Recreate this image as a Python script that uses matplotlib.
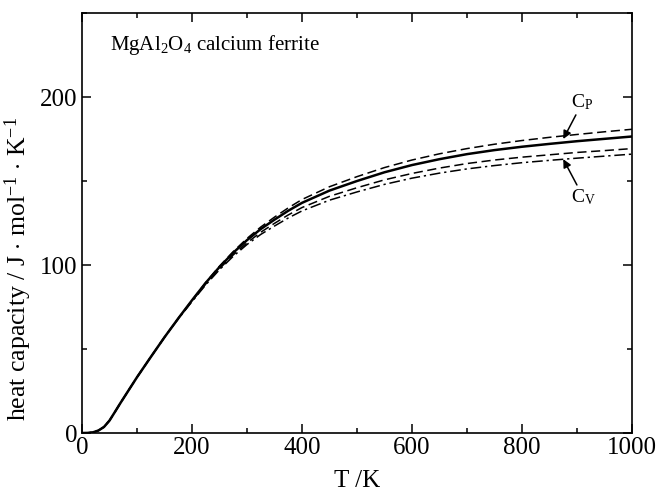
import matplotlib
matplotlib.use("Agg")
import matplotlib.pyplot as plt

plt.rcParams['font.family'] = ['Liberation Serif', 'DejaVu Serif']
plt.rcParams['mathtext.fontset'] = 'custom'
plt.rcParams['mathtext.rm'] = 'Liberation Serif'
plt.rcParams['mathtext.it'] = 'Liberation Serif:italic'

# Temperature grid (K)
T = [0, 10, 20, 30, 40, 50, 60, 70, 80, 90, 100, 125, 150, 175, 200, 225, 250,
     275, 300, 325, 350, 375, 400, 450, 500, 550, 600, 650, 700, 750, 800, 850,
     900, 950, 1000]
# Cp (solid)
cp_solid = [0, 0.05, 0.4, 1.5, 3.6, 7.4, 12.6, 17.9, 23.0, 28.1, 33.2, 45.2,
            57.0, 68.2, 79.0, 89.4, 98.8, 107.3, 114.8, 121.4, 127.0, 132.3,
            137.0, 144.3, 150.0, 155.2, 159.5, 163.0, 166.0, 168.4, 170.4,
            172.1, 173.7, 175.1, 176.5]
# Cp (dashed, upper)
cp_dashed = [0, 0.05, 0.4, 1.5, 3.6, 7.4, 12.6, 17.9, 23.0, 28.1, 33.2, 45.2,
             57.0, 68.2, 79.0, 89.6, 99.3, 108.0, 115.8, 122.6, 128.5, 134.0,
             139.0, 146.6, 152.6, 158.0, 162.5, 166.2, 169.3, 171.9, 174.1,
             176.0, 177.7, 179.3, 180.8]
# Cv (dashed, lower)
cv_dashed = [0, 0.05, 0.4, 1.5, 3.6, 7.4, 12.6, 17.9, 23.0, 28.1, 33.2, 45.2,
             57.0, 68.2, 78.5, 88.7, 97.8, 106.0, 113.2, 119.5, 124.8, 129.8,
             134.2, 140.9, 146.0, 150.7, 154.5, 157.7, 160.4, 162.5, 164.2,
             165.6, 167.0, 168.1, 169.3]
# Cv (dash-dot)
cv_dashdot = [0, 0.05, 0.4, 1.5, 3.6, 7.4, 12.6, 17.9, 23.0, 28.1, 33.2, 45.2,
              57.0, 67.9, 78.2, 88.2, 97.2, 105.2, 112.2, 118.2, 123.2, 128.0,
              132.2, 138.6, 143.5, 148.0, 151.7, 154.7, 157.2, 159.2, 160.9,
              162.3, 163.6, 164.8, 166.0]

fig = plt.figure(figsize=(6.58, 4.93), dpi=100)
ax = fig.add_axes([0.1246, 0.1217, 0.9605 - 0.1246, 0.9736 - 0.1217])

ax.plot(T, cp_dashed, color='black', lw=1.1, dashes=(6, 3))
ax.plot(T, cp_solid, color='black', lw=1.8)
ax.plot(T, cv_dashed, color='black', lw=1.1, dashes=(6, 3))
ax.plot(T, cv_dashdot, color='black', lw=1.1, dashes=(7, 2.5, 1.5, 2.5))

ax.set_xlim(0, 1000)
ax.set_ylim(0, 250)
ax.set_xticks([0, 200, 400, 600, 800, 1000])
ax.set_xticks([100, 300, 500, 700, 900], minor=True)
ax.set_yticks([0, 100, 200])
ax.set_yticks([50, 150, 250], minor=True)
ax.tick_params(which='both', direction='in', top=True, right=True, labelsize=18, width=1.1)
ax.tick_params(which='major', length=6.5, pad=3)
ax.tick_params(which='minor', length=3.3)
for s in ax.spines.values():
    s.set_linewidth(1.2)

ax.set_xlabel('T /K', fontsize=18, labelpad=8)
ax.set_ylabel(r'heat capacity / J $\cdot$ mol$^{-1}$ $\cdot$ K$^{-1}$', fontsize=18.5)
ax.yaxis.set_label_coords(-0.087, 0.39)

ax.text(51, 228, r'MgAl$_2$O$_4$ calcium ferrite', fontsize=15, ha='left', va='baseline')

ax.annotate(r'C$_\mathrm{P}$', xy=(875, 175), xytext=(910, 191), fontsize=14,
            ha='center', va='bottom',
            arrowprops=dict(arrowstyle='-|>', color='black', lw=1.1, shrinkA=0, shrinkB=0,
                            mutation_scale=12))
ax.annotate(r'C$_\mathrm{V}$', xy=(875, 163), xytext=(912, 146), fontsize=14,
            ha='center', va='top',
            arrowprops=dict(arrowstyle='-|>', color='black', lw=1.1, shrinkA=0, shrinkB=0,
                            mutation_scale=12))

fig.savefig('out.png', dpi=100)
